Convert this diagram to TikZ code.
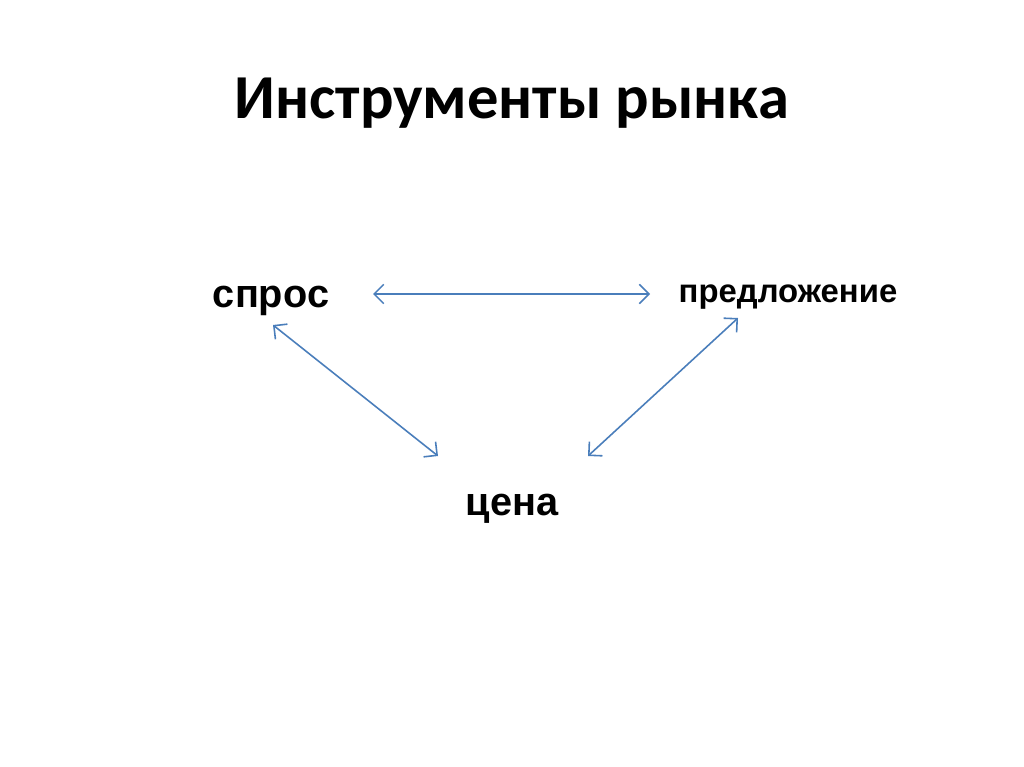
\documentclass[tikz,border=0pt]{standalone}
\usepackage{fontspec}
\setmainfont{Carlito}
\newfontfamily\arialbold{Liberation Sans}
\usetikzlibrary{arrows.meta}
\definecolor{linkBlue}{HTML}{4A7EBB}
\begin{document}
\begin{tikzpicture}[
        x=0.02cm, y=-0.02cm,
        titleNode/.style={
            anchor=base,
            font=\fontsize{35.6}{42}\selectfont\bfseries,
            inner sep=0pt
        },
        termNode/.style={
            anchor=base,
            font=\arialbold\fontsize{22.6}{27}\selectfont\bfseries,
            inner sep=0pt
        },
        smallTerm/.style={
            anchor=base,
            font=\arialbold\fontsize{18.7}{22}\selectfont\bfseries,
            inner sep=0pt
        },
        link/.style={
            draw=linkBlue,
            line width=0.9pt,
            {Straight Barb[length=5.5pt,width=11pt]}-{Straight Barb[length=5.5pt,width=11pt]}
        }
    ]
        \useasboundingbox[fill=white] (0,0) rectangle (1024,767);

        \node[titleNode] (title) at (512,118) {Инструменты рынка};

        \node[termNode] (spros) at (271,307) {спрос};
        \node[smallTerm] (predl) at (788,302) {предложение};
        \node[termNode] (tsena) at (512,515) {цена};

        % arrow ends, placed from the words
        \coordinate (sprosE) at ([shift={(102,-13)}]spros.base);
        \coordinate (predlW) at ([shift={(-138,-8)}]predl.base);
        \coordinate (sprosS) at ([shift={(2,18)}]spros.base);
        \coordinate (predlS) at ([shift={(-50,16)}]predl.base);
        \coordinate (tsenaL) at ([shift={(-74,-59)}]tsena.base);
        \coordinate (tsenaR) at ([shift={(76,-59)}]tsena.base);

        \draw[link] (sprosE) -- (sprosE -| predlW);
        \draw[link] (sprosS) -- (tsenaL);
        \draw[link] (predlS) -- (tsenaR);

    \end{tikzpicture}
\end{document}
